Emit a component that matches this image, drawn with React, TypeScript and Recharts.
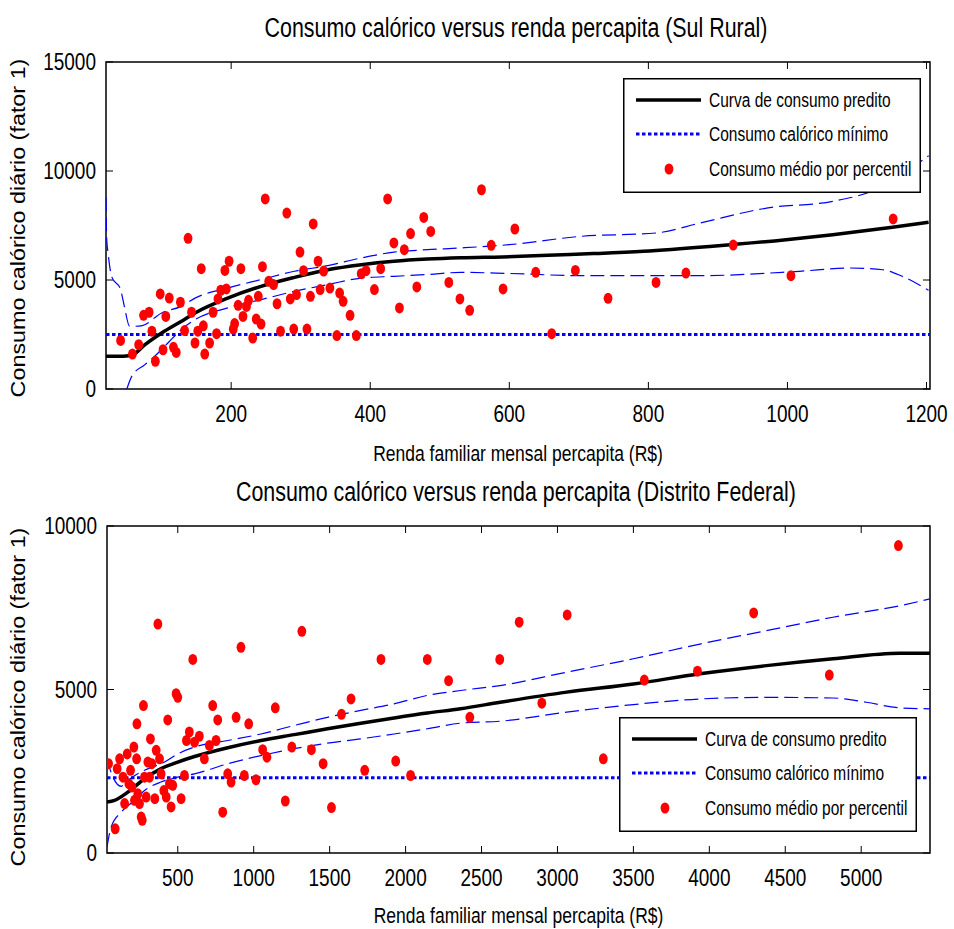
import React from "react";
import {
  ComposedChart,
  Line,
  ReferenceArea,
  ReferenceLine,
  Scatter,
  XAxis,
  YAxis,
} from "recharts";

// ---------- Sul Rural ----------
const sulRenda = [
  41, 58, 67, 74, 82, 86, 91, 98, 102, 106, 111, 117, 121, 127, 133, 138, 143, 148, 152, 157,
  160, 162, 169, 174, 179, 181, 185, 191, 193, 197, 203, 205, 210, 214, 217, 222, 225, 231, 236, 239,
  243, 245, 249, 254, 261, 266, 271, 280, 285, 290, 294, 299, 304, 309, 314, 318, 325, 328, 333, 342,
  352, 356, 361, 371, 380, 387, 394, 406, 415, 425, 434, 442, 449, 458, 467, 477, 487, 513, 529, 543,
  560, 574, 591, 608, 638, 661, 695, 742, 811, 854, 922, 1005, 1152,
];
const sulConsumo = [
  2230, 1600, 2030, 3380, 3520, 2650, 1270, 4360, 1800, 3330, 4170, 1910, 1680, 3980, 2680, 6910, 3520, 2110, 2650, 5520,
  2900, 1600, 2110, 3520, 2540, 4130, 4530, 5440, 4590, 5860, 2750, 3000, 3840, 5520, 3330, 3790, 4070, 2340, 3210, 4250,
  2980, 5610, 8720, 4940, 4790, 3910, 2650, 8070, 4130, 2750, 4330, 6280, 5430, 2750, 4250, 7570, 5860, 4560, 5410, 4630,
  2450, 4400, 4020, 3380, 2450, 5290, 5430, 4560, 5520, 8720, 6700, 3720, 6390, 7130, 4680, 7870, 7230, 4890, 4130, 3610,
  9140, 6590, 4590, 7340, 5350, 2540, 5440, 4160, 4890, 5320, 6600, 5200, 7800,
];
const sulCurvaRenda = [20, 45, 60, 76, 100, 128, 148, 195, 243, 291, 339, 387, 434, 482, 530, 590, 721, 793, 888, 998, 1065, 1151, 1203];
const sulCurvaPred = [1500, 1500, 1600, 2030, 2570, 3100, 3490, 4170, 4710, 5120, 5470, 5700, 5860, 5960, 6020, 6060, 6210, 6320, 6540, 6850, 7080, 7420, 7650];
const sulSupRenda = [20, 21, 23, 28, 41, 46, 54, 71, 100, 128, 148, 195, 243, 291, 339, 387, 434, 482, 530, 600, 702, 812, 874, 970, 1065, 1127, 1203];
const sulSup = [8800, 6880, 6240, 5170, 4560, 3850, 2870, 2900, 3490, 3790, 4170, 4630, 5020, 5400, 5660, 6010, 6280, 6390, 6470, 6620, 7000, 7160, 7610, 8300, 8610, 9140, 10700];
const sulInfRenda = [50, 57, 76, 90, 109, 128, 148, 195, 243, 291, 339, 387, 434, 482, 530, 600, 702, 874, 1017, 1089, 1137, 1165, 1203];
const sulInf = [0, 580, 1120, 1500, 2110, 2720, 3180, 3720, 4100, 4480, 4790, 5090, 5170, 5250, 5350, 5300, 5200, 5200, 5400, 5550, 5470, 5170, 4530];
const sulMinimo = 2500;
const sulXTicks = [200, 400, 600, 800, 1000, 1200];
const sulYTicks = [0, 5000, 10000, 15000];

// ---------- Distrito Federal ----------
const dfRenda = [
  44, 88, 101, 117, 139, 150, 167, 178, 189, 198, 211, 215, 229, 231, 237, 248, 259, 266, 274, 281,
  292, 303, 314, 320, 329, 349, 358, 369, 380, 390, 408, 424, 434, 445, 456, 467, 489, 500, 522, 544,
  557, 576, 599, 610, 642, 675, 708, 730, 752, 763, 796, 829, 851, 884, 916, 938, 967, 1015, 1059, 1087,
  1142, 1208, 1251, 1317, 1380, 1457, 1512, 1578, 1641, 1731, 1838, 1935, 2033, 2143, 2283, 2423, 2620, 2748, 2897, 3064,
  3302, 3572, 3922, 4292, 4790, 5245,
];
const dfConsumo = [
  2730, 740, 2580, 2880, 2320, 1510, 3030, 2120, 2530, 2020, 3240, 1610, 2880, 3950, 1810, 1510, 1100, 1000, 4510, 2320,
  1710, 2780, 2320, 3490, 2730, 1660, 3140, 7000, 2880, 2420, 1910, 1710, 4070, 2120, 1410, 2070, 4870, 4760, 1660, 2370,
  3440, 3700, 5920, 3390, 3570, 2880, 3290, 4510, 3440, 4070, 1250, 2420, 2170, 4150, 6290, 2370, 3950, 2240, 3160, 2930,
  4440, 1590, 3240, 6780, 3160, 2730, 1390, 4240, 4710, 2530, 5920, 2810, 2370, 5920, 5270, 4150, 5920, 7060, 4580, 7280,
  2880, 5290, 5560, 7340, 5440, 9400,
];
const dfCurvaRenda = [34, 84, 171, 281, 390, 500, 610, 829, 1048, 1267, 1486, 1705, 1924, 2143, 2362, 2623, 3061, 3500, 3938, 4376, 4814, 5252, 5453];
const dfCurvaPred = [1560, 1610, 1860, 2270, 2580, 2780, 2950, 3220, 3440, 3620, 3800, 3970, 4130, 4280, 4410, 4610, 4920, 5170, 5480, 5730, 5940, 6110, 6110];
const dfSupRenda = [34, 73, 128, 171, 281, 413, 500, 610, 829, 1048, 1267, 1486, 1705, 1924, 2143, 2362, 2623, 3061, 3500, 3938, 4376, 4814, 5252, 5453];
const dfSup = [2880, 2320, 2040, 2220, 2530, 2780, 3030, 3240, 3440, 3640, 3900, 4150, 4360, 4560, 4820, 4970, 5120, 5530, 5940, 6390, 6800, 7210, 7560, 7770];
const dfInfRenda = [34, 61, 128, 215, 281, 390, 500, 610, 829, 1048, 1267, 1486, 1705, 1924, 2143, 2362, 2623, 3061, 3500, 3938, 4376, 4814, 5033, 5252, 5453];
const dfInf = [180, 790, 1250, 1610, 1910, 2170, 2320, 2420, 2730, 2980, 3190, 3360, 3490, 3640, 3800, 3970, 4030, 4310, 4540, 4710, 4760, 4740, 4610, 4440, 4410];
const dfMinimo = 2300;
const dfXTicks = [500, 1000, 1500, 2000, 2500, 3000, 3500, 4000, 4500, 5000];
const dfYTicks = [0, 5000, 10000];

const legendLabels = [
  "Curva de consumo predito",
  "Consumo calórico mínimo",
  "Consumo médio por percentil",
];

const FONT = "'Liberation Sans', Arial, sans-serif";
const BLUE = "#0000ff";
const STRETCH = 1.3; // the original picture is stretched vertically

const zip = (xs: number[], ys: number[]) => xs.map((x, i) => ({ x, y: ys[i] }));

// horizontal text, stretched vertically like the source image
function TallText({ x, y, size, anchor = "middle", children }: any) {
  return (
    <text
      transform={`translate(${x} ${y}) scale(1 ${STRETCH})`}
      x={0}
      y={0}
      textAnchor={anchor}
      dominantBaseline="central"
      fontSize={size}
      fontFamily={FONT}
      fill="#000"
    >
      {children}
    </text>
  );
}

function Legenda({ left, top }: { left: number; top: number }) {
  const rows = [22, 56, 91];
  return (
    <div style={{ position: "absolute", left, top, width: 298, height: 115 }}>
      <svg width={298} height={115}>
        <rect x={0.75} y={0.75} width={296.5} height={113.5} fill="#fff" stroke="#000" strokeWidth={1.5} />
        <line x1={13} x2={78} y1={rows[0]} y2={rows[0]} stroke="#000" strokeWidth={3.5} />
        <line x1={13} x2={78} y1={rows[1]} y2={rows[1]} stroke={BLUE} strokeWidth={3} strokeDasharray="3.5 2.5" />
        <ellipse cx={46} cy={rows[2]} rx={4.4} ry={5.5} fill="#ff0000" />
        {legendLabels.map((t, i) => (
          <TallText key={t} x={86} y={rows[i]} size={15.5} anchor="start">
            {t}
          </TallText>
        ))}
      </svg>
    </div>
  );
}

function Painel(props: {
  top: number;
  height: number;
  plotTop: number;
  plotBottom: number;
  plotLeft: number;
  xDomain: [number, number];
  yMax: number;
  xTicks: number[];
  yTicks: number[];
  pontos: { x: number; y: number }[];
  curva: { x: number; y: number }[];
  sup: { x: number; y: number }[];
  inf: { x: number; y: number }[];
  minimo: number;
  xLabelY: number;
  yLabelCy: number;
}) {
  const { plotTop, plotBottom, plotLeft } = props;
  const plotRight = 930;
  const XTick = (p: any) => (
    <g>
      <line x1={p.x} x2={p.x} y1={plotBottom} y2={plotBottom - 7} stroke="#000" />
      <line x1={p.x} x2={p.x} y1={plotTop} y2={plotTop + 7} stroke="#000" />
      <TallText x={p.x} y={plotBottom + 25} size={19}>
        {p.payload.value}
      </TallText>
    </g>
  );
  const YTick = (p: any) => (
    <g>
      <line x1={plotLeft} x2={plotLeft + 7} y1={p.y} y2={p.y} stroke="#000" />
      <line x1={plotRight} x2={plotRight - 7} y1={p.y} y2={p.y} stroke="#000" />
      <TallText x={plotLeft - 10} y={p.y} size={19} anchor="end">
        {p.payload.value}
      </TallText>
    </g>
  );
  const XLabel = () => (
    <TallText x={(plotLeft + plotRight) / 2} y={props.xLabelY} size={17.5}>
      Renda familiar mensal percapita (R$)
    </TallText>
  );
  const YLabel = () => (
    <text
      transform={`translate(18 ${props.yLabelCy}) rotate(-90) scale(1.14 1)`}
      x={0}
      y={0}
      textAnchor="middle"
      dominantBaseline="central"
      fontSize={20.5}
      fontFamily={FONT}
      fill="#000"
    >
      Consumo calórico diário (fator 1)
    </text>
  );
  return (
    <div style={{ position: "absolute", left: 0, top: props.top }}>
      <ComposedChart
        width={954}
        height={props.height}
        margin={{ top: plotTop, right: 954 - plotRight, left: 0, bottom: 0 }}
      >
        <XAxis
          dataKey="x"
          type="number"
          domain={props.xDomain}
          allowDataOverflow
          ticks={props.xTicks}
          interval={0}
          tickLine={false}
          axisLine={false}
          tick={XTick}
          height={props.height - plotBottom}
          label={XLabel}
        />
        <YAxis
          dataKey="y"
          type="number"
          domain={[0, props.yMax]}
          allowDataOverflow
          ticks={props.yTicks}
          interval={0}
          tickLine={false}
          axisLine={false}
          tick={YTick}
          width={plotLeft}
          label={YLabel}
        />
        <ReferenceArea
          x1={props.xDomain[0]}
          x2={props.xDomain[1]}
          y1={0}
          y2={props.yMax}
          fill="none"
          fillOpacity={0}
          stroke="#000"
          strokeWidth={1.5}
        />
        <ReferenceLine y={props.minimo} stroke={BLUE} strokeWidth={3} strokeDasharray="3.5 2.5" />
        <Line data={props.sup} dataKey="y" type="monotone" stroke={BLUE} strokeWidth={1.2} strokeDasharray="14 6" dot={false} activeDot={false} isAnimationActive={false} />
        <Line data={props.inf} dataKey="y" type="monotone" stroke={BLUE} strokeWidth={1.2} strokeDasharray="14 6" dot={false} activeDot={false} isAnimationActive={false} />
        <Line data={props.curva} dataKey="y" type="monotone" stroke="#000" strokeWidth={3.5} dot={false} activeDot={false} isAnimationActive={false} />
        <Scatter
          data={props.pontos}
          dataKey="y"
          fill="#ff0000"
          isAnimationActive={false}
          shape={(p: any) => <ellipse cx={p.cx} cy={p.cy} rx={4.4} ry={5.5} fill="#ff0000" />}
        />
      </ComposedChart>
    </div>
  );
}

const tituloStyle: React.CSSProperties = {
  position: "absolute",
  left: 0,
  width: 1032,
  textAlign: "center",
  fontFamily: FONT,
  fontSize: 21.4,
  lineHeight: "24px",
  color: "#000",
  transform: `scaleY(${STRETCH})`,
};

export default function App() {
  return (
    <div style={{ position: "absolute", left: 0, top: 0, width: 954, height: 929, background: "#fff", overflow: "hidden" }}>
      <Painel
        top={0}
        height={470}
        plotTop={62}
        plotBottom={389}
        plotLeft={106}
        xDomain={[20, 1205]}
        yMax={15000}
        xTicks={sulXTicks}
        yTicks={sulYTicks}
        pontos={zip(sulRenda, sulConsumo)}
        curva={zip(sulCurvaRenda, sulCurvaPred)}
        sup={zip(sulSupRenda, sulSup)}
        inf={zip(sulInfRenda, sulInf)}
        minimo={sulMinimo}
        xLabelY={453}
        yLabelCy={228}
      />
      <Painel
        top={464}
        height={465}
        plotTop={62}
        plotBottom={389}
        plotLeft={107}
        xDomain={[34, 5453]}
        yMax={10000}
        xTicks={dfXTicks}
        yTicks={dfYTicks}
        pontos={zip(dfRenda, dfConsumo)}
        curva={zip(dfCurvaRenda, dfCurvaPred)}
        sup={zip(dfSupRenda, dfSup)}
        inf={zip(dfInfRenda, dfInf)}
        minimo={dfMinimo}
        xLabelY={451}
        yLabelCy={233}
      />
      <div style={{ ...tituloStyle, top: 16 }}>Consumo calórico versus renda percapita (Sul Rural)</div>
      <div style={{ ...tituloStyle, top: 480 }}>Consumo calórico versus renda percapita (Distrito Federal)</div>
      <Legenda left={623} top={78} />
      <Legenda left={619} top={717} />
    </div>
  );
}
